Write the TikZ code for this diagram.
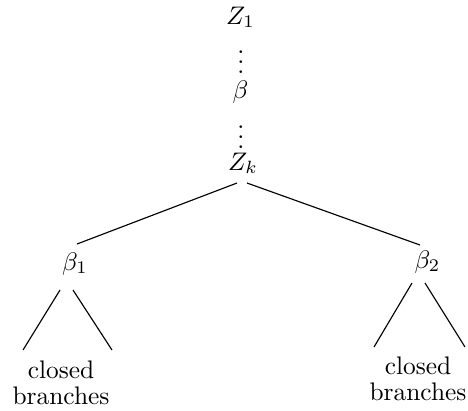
\documentclass[tikz,border=0pt]{standalone}
\usetikzlibrary{calc}
\newcommand{\tightvdots}{\vbox{\baselineskip4pt\lineskiplimit0pt\hbox{.}\hbox{.}\hbox{.}}}
\begin{document}
\begin{tikzpicture}[x=0.394pt,y=-0.394pt,
  lbl/.style={inner sep=0pt,anchor=base},
  edge/.style={line width=0.45pt}]
\useasboundingbox (0,0) rectangle (468,410);
\node[lbl] (z1) at (240.5,24) {$Z_1$};
\node[lbl] (d1) at (241,73.5) {\tightvdots};
\node[lbl] (beta) at (240.5,98) {$\beta$};
\node[lbl] (d2) at (241,148.5) {\tightvdots};
\node[lbl] (zk) at (243,170) {$Z_k$};
\node[lbl] (b1) at (75,270) {$\beta_1$};
\node[lbl] (b2) at (427.5,268) {$\beta_2$};
\node[lbl] (cb1) at (61,404) {\shortstack{closed\\branches}};
\node[lbl] (cb2) at (418,400) {\shortstack{closed\\branches}};
\draw[edge] ($(zk.base)+(-6,13)$) -- ($(b1.base)+(2,-26)$);
\draw[edge] ($(zk.base)+(4,13)$) -- ($(b2.base)+(-7.5,-23)$);
\draw[edge] ($(b1.base)+(-15,20)$) -- ($(cb1.base)+(-38,-54)$);
\draw[edge] ($(b1.base)+(-2,20)$) -- ($(cb1.base)+(51,-54)$);
\draw[edge] ($(b2.base)+(-15.5,15)$) -- ($(cb2.base)+(-44,-53)$);
\draw[edge] ($(b2.base)+(-2.5,15)$) -- ($(cb2.base)+(47,-53)$);
\end{tikzpicture}
\end{document}
